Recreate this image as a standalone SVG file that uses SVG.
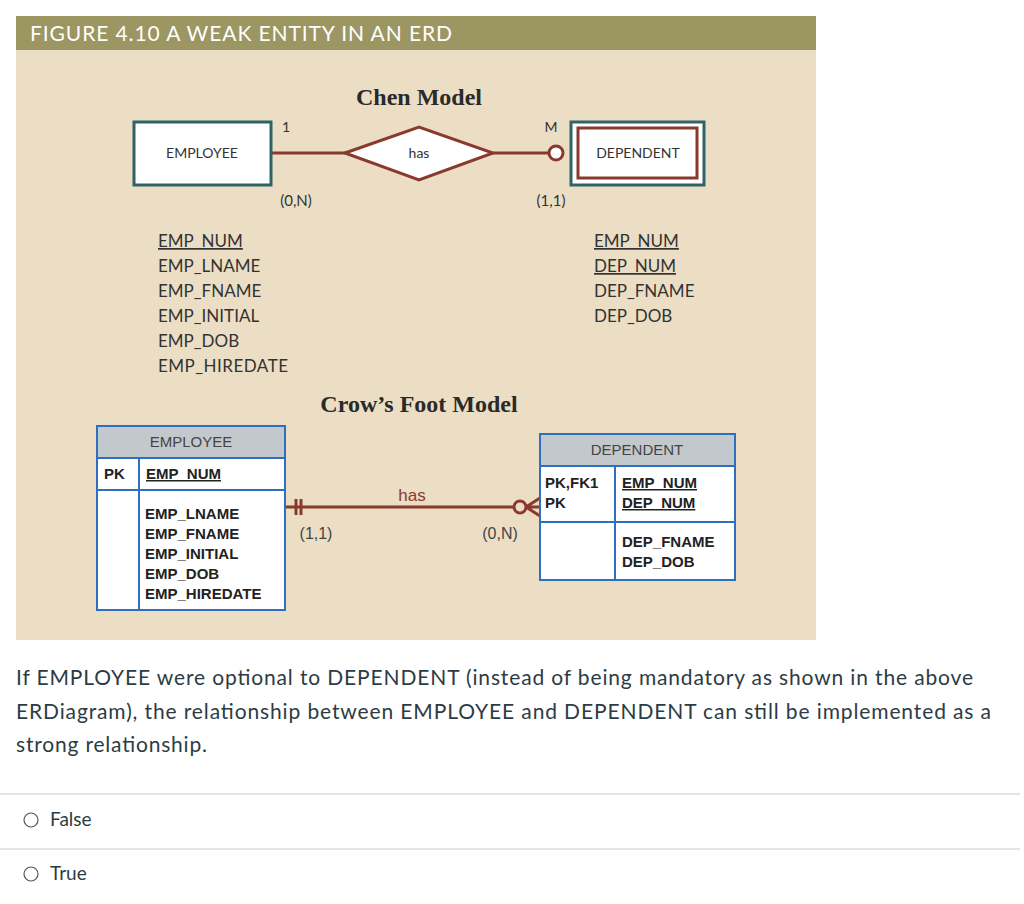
<svg xmlns="http://www.w3.org/2000/svg" width="1024" height="904" viewBox="0 0 1024 904">
<style>
.l{font-family:Lato,"Liberation Sans",sans-serif;fill:#333}
.a{font-family:"Liberation Sans",Arial,sans-serif;fill:#222}
.b{font-family:"Liberation Sans",Arial,sans-serif;font-weight:bold;fill:#222;font-size:15px}
.ent{fill:#fff;stroke:#2e6466;stroke-width:3}
.red{stroke:#8a3a2c;stroke-width:3;fill:none}
.tb{fill:#fff;stroke:#2f6fbf;stroke-width:2}
.hd{fill:#c3c8cc;stroke:#2f6fbf;stroke-width:2}
</style>
<rect width="1024" height="904" fill="#fff"/>
<rect x="16" y="16" width="800" height="624" fill="#ebdec4"/>
<rect x="16" y="16" width="800" height="34" fill="#9c9662"/>
<text class="l" x="30" y="41" font-size="21" textLength="422" style="fill:#fff">FIGURE 4.10  A WEAK ENTITY IN AN ERD</text>
<text x="419" y="105" text-anchor="middle" font-family="Liberation Serif,serif" font-weight="bold" font-size="24" fill="#2a2a2a">Chen Model</text>
<text x="419" y="412" text-anchor="middle" font-family="Liberation Serif,serif" font-weight="bold" font-size="24" fill="#2a2a2a">Crow’s Foot Model</text>
<g id="connectors">
<line class="red" x1="271" y1="153" x2="345" y2="153"/>
<line class="red" x1="493" y1="153" x2="549" y2="153"/>
<circle cx="556" cy="153" r="7" fill="#fff" stroke="#8a3a2c" stroke-width="3"/>
<line class="red" x1="285" y1="507" x2="514" y2="507"/>
<line class="red" x1="296" y1="499" x2="296" y2="515"/>
<line class="red" x1="301" y1="499" x2="301" y2="515"/>
<circle cx="520" cy="507" r="6" fill="#ebdec4" stroke="#8a3a2c" stroke-width="3"/>
<path class="red" d="M526 507 L540 498 M526 507 L540 507 M526 507 L540 516"/>
<text class="a" x="412" y="501" font-size="17" style="fill:#8a3a2c" text-anchor="middle">has</text>
<text class="a" x="316" y="539" font-size="16" text-anchor="middle" style="fill:#444">(1,1)</text>
<text class="a" x="500" y="539" font-size="16" text-anchor="middle" style="fill:#444">(0,N)</text>
<text class="l" x="282" y="132" font-size="14">1</text>
<text class="l" x="551" y="132" font-size="14" text-anchor="middle">M</text>
<text class="l" x="296" y="206" font-size="15" text-anchor="middle">(0,N)</text>
<text class="l" x="551" y="206" font-size="15" text-anchor="middle">(1,1)</text>
</g>
<g id="chen-employee"><rect class="ent" x="134" y="122" width="137" height="63"/><text class="l" x="202" y="158" font-size="14" text-anchor="middle">EMPLOYEE</text></g>
<g id="chen-has"><polygon points="345,153 419,127 493,153 419,180" fill="#fff" stroke="#8a3a2c" stroke-width="3"/><text class="l" x="419" y="158" font-size="14" text-anchor="middle">has</text></g>
<g id="chen-dependent"><rect class="ent" x="571" y="122" width="133" height="63"/><rect x="578" y="128" width="119" height="50" fill="#fff" stroke="#8a3a2c" stroke-width="3"/><text class="l" x="638" y="158" font-size="14" text-anchor="middle">DEPENDENT</text></g>
<g id="emp-attrs" class="l" font-size="17">
<text x="158" y="247" text-decoration="underline">EMP_NUM</text>
<text x="158" y="272">EMP_LNAME</text><text x="158" y="297">EMP_FNAME</text><text x="158" y="322">EMP_INITIAL</text><text x="158" y="347">EMP_DOB</text><text x="158" y="372" textLength="130">EMP_HIREDATE</text>
</g>
<g id="dep-attrs" class="l" font-size="17">
<text x="594" y="247" text-decoration="underline">EMP_NUM</text><text x="594" y="272" text-decoration="underline">DEP_NUM</text><text x="594" y="297">DEP_FNAME</text><text x="594" y="322">DEP_DOB</text>
</g>
<g id="cf-employee">
<rect class="hd" x="97" y="426" width="188" height="32"/><text class="a" x="191" y="447" font-size="15" text-anchor="middle" style="fill:#444">EMPLOYEE</text>
<rect class="tb" x="97" y="458" width="188" height="32"/><rect class="tb" x="97" y="490" width="188" height="120"/>
<line x1="139" y1="458" x2="139" y2="610" stroke="#2f6fbf" stroke-width="2"/>
<text class="b" x="104" y="479">PK</text><text class="b" x="146" y="479" text-decoration="underline">EMP_NUM</text>
<text class="b" x="145" y="519">EMP_LNAME</text><text class="b" x="145" y="539">EMP_FNAME</text><text class="b" x="145" y="559">EMP_INITIAL</text><text class="b" x="145" y="579">EMP_DOB</text><text class="b" x="145" y="599">EMP_HIREDATE</text>
</g>
<g id="cf-dependent">
<rect class="hd" x="540" y="434" width="195" height="32"/><text class="a" x="637" y="455" font-size="15" text-anchor="middle" style="fill:#444">DEPENDENT</text>
<rect class="tb" x="540" y="466" width="195" height="56"/><rect class="tb" x="540" y="522" width="195" height="58"/>
<line x1="615" y1="466" x2="615" y2="580" stroke="#2f6fbf" stroke-width="2"/>
<text class="b" x="545" y="488">PK,FK1</text><text class="b" x="545" y="508">PK</text>
<text class="b" x="622" y="488" text-decoration="underline">EMP_NUM</text><text class="b" x="622" y="508" text-decoration="underline">DEP_NUM</text>
<text class="b" x="622" y="547">DEP_FNAME</text><text class="b" x="622" y="567">DEP_DOB</text>
</g>
<g id="question" class="l" font-size="21" style="fill:#2d3b45">
<text x="16" y="685" textLength="957">If EMPLOYEE were optional to DEPENDENT (instead of being mandatory as shown in the above</text>
<text x="16" y="719" textLength="975">ERDiagram), the relationship between EMPLOYEE and DEPENDENT can still be implemented as a</text>
<text x="16" y="752" textLength="191">strong relationship.</text>
</g>
<line x1="0" y1="794" x2="1020" y2="794" stroke="#ccc"/>
<line x1="0" y1="849" x2="1020" y2="849" stroke="#ccc"/>
<g id="opt-false"><circle cx="31" cy="820" r="7" fill="#fff" stroke="#555" stroke-width="1.2"/><text class="l" x="50" y="826" font-size="19" style="fill:#2d3b45">False</text></g>
<g id="opt-true"><circle cx="31" cy="874" r="7" fill="#fff" stroke="#555" stroke-width="1.2"/><text class="l" x="50" y="880" font-size="19" style="fill:#2d3b45">True</text></g>
</svg>
